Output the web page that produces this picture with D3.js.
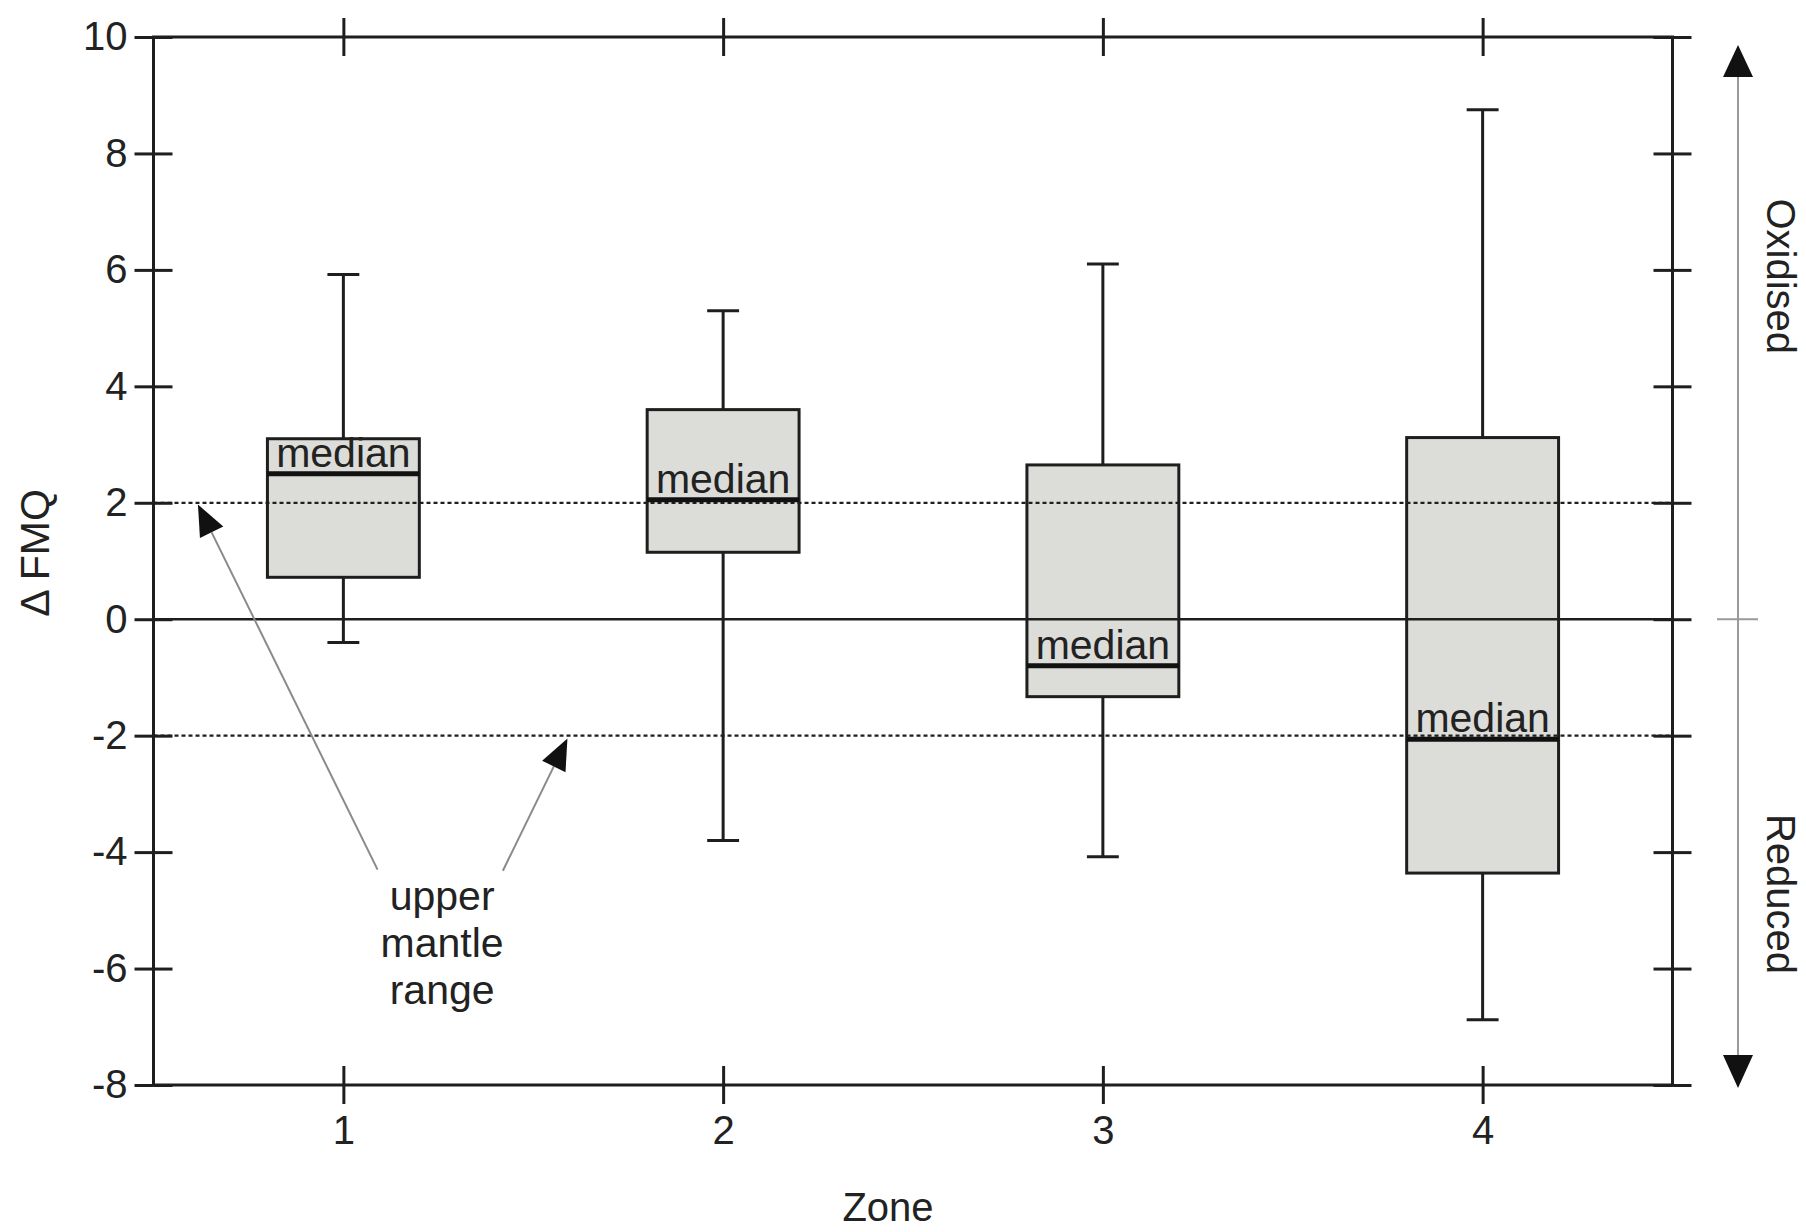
<!DOCTYPE html>
<html>
<head>
<meta charset="utf-8">
<script src="https://cdn.jsdelivr.net/npm/d3@7"></script>
<style>
  html, body { margin: 0; padding: 0; background: #ffffff; }
  svg { display: block; }
  text { font-family: "Liberation Sans", Arial, sans-serif; fill: #222; }
</style>
</head>
<body>
<svg id="chart" width="1806" height="1232"></svg>
<script>
// Oxygen fugacity relative to FMQ buffer, by zone
const zones = [1, 2, 3, 4];
const whiskerLow  = [-0.4, -3.8, -4.08, -6.88];
const q1          = [0.72, 1.15, -1.33, -4.36];
const medians     = [2.5, 2.05, -0.8, -2.06];
const q3          = [3.1, 3.6, 2.65, 3.12];
const whiskerHigh = [5.92, 5.3, 6.1, 8.75];

const yTicks = [-8, -6, -4, -2, 0, 2, 4, 6, 8, 10];
const xTicks = [1, 2, 3, 4];
const mantleRange = [-2, 2];
const annotationLines = ["upper", "mantle", "range"];

(function () {
const svg = d3.select("#chart");
const plotL = 153.5, plotR = 1672.5, plotT = 37, plotB = 1085;

const x = d3.scaleLinear().domain([0.5, 4.5]).range([plotL, plotR]);
const y = d3.scaleLinear().domain([-8, 10]).range([plotB, plotT]);

const ink = "#1e1e1e";
const boxHalf = 0.2;    // box half-width, zone units
const capHalf = 0.042;  // whisker cap half-width, zone units
const fontSize = 41;

const data = zones.map((z, i) => ({
  z, lo: whiskerLow[i], q1: q1[i], med: medians[i], q3: q3[i], hi: whiskerHigh[i]
}));

const g = svg.append("g");

// whiskers
data.forEach(d => {
  g.append("line")
    .attr("x1", x(d.z)).attr("x2", x(d.z))
    .attr("y1", y(d.q3)).attr("y2", y(d.hi))
    .attr("stroke", ink).attr("stroke-width", 3);
  g.append("line")
    .attr("x1", x(d.z)).attr("x2", x(d.z))
    .attr("y1", y(d.q1)).attr("y2", y(d.lo))
    .attr("stroke", ink).attr("stroke-width", 3);
  [d.hi, d.lo].forEach(v => {
    g.append("line")
      .attr("x1", x(d.z - capHalf)).attr("x2", x(d.z + capHalf))
      .attr("y1", y(v)).attr("y2", y(v))
      .attr("stroke", ink).attr("stroke-width", 3);
  });
});

// boxes
g.selectAll("rect.box").data(data).enter().append("rect")
  .attr("class", "box")
  .attr("x", d => x(d.z - boxHalf))
  .attr("width", d => x(d.z + boxHalf) - x(d.z - boxHalf))
  .attr("y", d => y(d.q3))
  .attr("height", d => y(d.q1) - y(d.q3))
  .attr("fill", "#dcdcd9")
  .attr("stroke", ink).attr("stroke-width", 3);

// zero line
g.append("line")
  .attr("x1", plotL).attr("x2", plotR)
  .attr("y1", y(0)).attr("y2", y(0))
  .attr("stroke", ink).attr("stroke-width", 2.5);

// upper mantle range (dotted)
mantleRange.forEach(v => {
  g.append("line")
    .attr("x1", plotL).attr("x2", plotR)
    .attr("y1", y(v)).attr("y2", y(v))
    .attr("stroke", ink).attr("stroke-width", 2.2)
    .attr("stroke-dasharray", "4,3");
});

// medians
data.forEach(d => {
  g.append("line")
    .attr("x1", x(d.z - boxHalf)).attr("x2", x(d.z + boxHalf))
    .attr("y1", y(d.med)).attr("y2", y(d.med))
    .attr("stroke", "#111").attr("stroke-width", 5);
  g.append("text")
    .attr("x", x(d.z)).attr("y", y(d.med) - 7)
    .attr("text-anchor", "middle")
    .attr("font-size", fontSize)
    .text("median");
});

// Frame
svg.append("rect")
  .attr("x", plotL).attr("y", plotT)
  .attr("width", plotR - plotL).attr("height", plotB - plotT)
  .attr("fill", "none").attr("stroke", ink).attr("stroke-width", 3);

// Axes with ticks crossing the frame
const tickLen = 19;
function styleAxis(sel) {
  sel.select(".domain").remove();
  sel.selectAll(".tick line").attr("stroke", ink).attr("stroke-width", 3);
  sel.selectAll(".tick text").attr("font-size", 40).attr("fill", "#222")
    .attr("font-family", "'Liberation Sans', Arial, sans-serif");
}
const plain = d => String(d);

svg.append("g").attr("transform", `translate(${plotL},0)`)
  .call(d3.axisLeft(y).tickValues(yTicks).tickSize(tickLen).tickPadding(7).tickFormat(plain))
  .call(styleAxis);
svg.append("g").attr("transform", `translate(${plotL},0)`)
  .call(d3.axisRight(y).tickValues(yTicks).tickSize(tickLen).tickFormat(""))
  .call(styleAxis);
svg.append("g").attr("transform", `translate(${plotR},0)`)
  .call(d3.axisLeft(y).tickValues(yTicks).tickSize(tickLen).tickFormat(""))
  .call(styleAxis);
svg.append("g").attr("transform", `translate(${plotR},0)`)
  .call(d3.axisRight(y).tickValues(yTicks).tickSize(tickLen).tickFormat(""))
  .call(styleAxis);

svg.append("g").attr("transform", `translate(0,${plotB})`)
  .call(d3.axisBottom(x).tickValues(xTicks).tickSize(tickLen).tickPadding(12).tickFormat(plain))
  .call(styleAxis);
svg.append("g").attr("transform", `translate(0,${plotB})`)
  .call(d3.axisTop(x).tickValues(xTicks).tickSize(tickLen).tickFormat(""))
  .call(styleAxis);
svg.append("g").attr("transform", `translate(0,${plotT})`)
  .call(d3.axisTop(x).tickValues(xTicks).tickSize(tickLen).tickFormat(""))
  .call(styleAxis);
svg.append("g").attr("transform", `translate(0,${plotT})`)
  .call(d3.axisBottom(x).tickValues(xTicks).tickSize(tickLen).tickFormat(""))
  .call(styleAxis);

// Axis titles
svg.append("text")
  .attr("transform", `translate(49,553) rotate(-90)`)
  .attr("text-anchor", "middle")
  .attr("font-size", fontSize)
  .text("\u0394 FMQ");

svg.append("text")
  .attr("x", 888).attr("y", 1221)
  .attr("text-anchor", "middle")
  .attr("font-size", 40)
  .text("Zone");

// Oxidised / Reduced direction arrow
const ax = 1738;
function triangle(tipX, tipY, dx, dy, len, half) {
  const n = Math.hypot(dx, dy); const ux = dx / n, uy = dy / n;
  const bx = tipX - ux * len, by = tipY - uy * len;
  return [[tipX, tipY], [bx - uy * half, by + ux * half], [bx + uy * half, by - ux * half]];
}
const arrowTop = 45, arrowBottom = 1088;
svg.append("line")
  .attr("x1", ax).attr("x2", ax).attr("y1", arrowTop + 20).attr("y2", arrowBottom - 20)
  .attr("stroke", "#9a9a9a").attr("stroke-width", 2);
svg.append("line")
  .attr("x1", ax - 21).attr("x2", ax + 20).attr("y1", y(0)).attr("y2", y(0))
  .attr("stroke", "#9a9a9a").attr("stroke-width", 2);
svg.append("polygon")
  .attr("points", triangle(ax, arrowTop, 0, -1, 32, 15).map(p => p.join(",")).join(" "))
  .attr("fill", "#111");
svg.append("polygon")
  .attr("points", triangle(ax, arrowBottom, 0, 1, 33, 15).map(p => p.join(",")).join(" "))
  .attr("fill", "#111");

svg.append("text")
  .attr("transform", `translate(1767,${y(5.89)}) rotate(90)`)
  .attr("text-anchor", "middle")
  .attr("font-size", 40)
  .text("Oxidised");
svg.append("text")
  .attr("transform", `translate(1767,${y(-4.72)}) rotate(90)`)
  .attr("text-anchor", "middle")
  .attr("font-size", 40)
  .text("Reduced");

// Upper mantle range annotation
const arrows = [
  { from: [1.09, -4.3], to: [0.617, 1.97] },
  { from: [1.42, -4.32], to: [1.59, -2.05] }
];
arrows.forEach(a => {
  const x1 = x(a.from[0]), y1 = y(a.from[1]);
  const x2 = x(a.to[0]), y2 = y(a.to[1]);
  const pts = triangle(x2, y2, x2 - x1, y2 - y1, 31, 13);
  const bx = (pts[1][0] + pts[2][0]) / 2, by = (pts[1][1] + pts[2][1]) / 2;
  svg.append("line")
    .attr("x1", x1).attr("y1", y1).attr("x2", bx).attr("y2", by)
    .attr("stroke", "#8a8a8a").attr("stroke-width", 2);
  svg.append("polygon")
    .attr("points", pts.map(p => p.join(",")).join(" "))
    .attr("fill", "#111");
});

const note = svg.append("text")
  .attr("text-anchor", "middle")
  .attr("font-size", fontSize);
annotationLines.forEach((t, i) => {
  note.append("tspan")
    .attr("x", x(1.26))
    .attr("y", y(-5.0) + i * 47)
    .text(t);
});
})();
</script>
</body>
</html>
